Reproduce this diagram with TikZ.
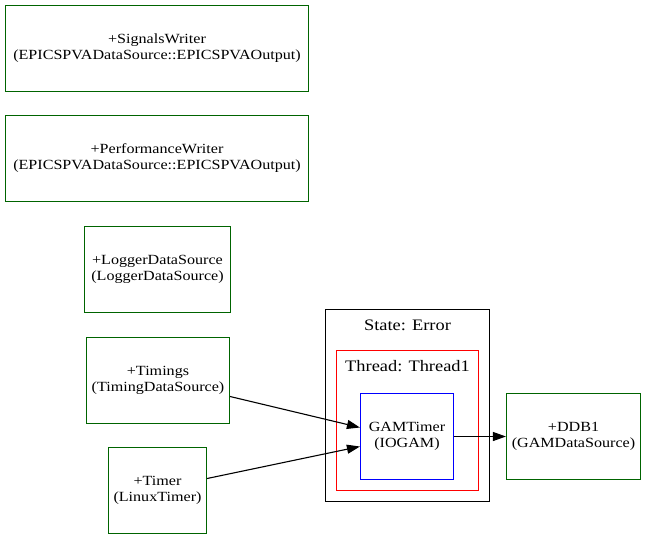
\documentclass[tikz,border=0pt]{standalone}
\usepackage{fontspec}
\setmainfont[FakeStretch=1.15]{Liberation Serif}
\usetikzlibrary{arrows.meta}
\definecolor{dgreen}{HTML}{006400}
\begin{document}
\begin{tikzpicture}[x=1pt,y=-1pt,
  box/.style={draw=dgreen,line width=1.15pt,align=center,inner sep=0pt,font=\fontsize{14}{16}\selectfont},
  clus/.style={line width=1.15pt},
  lbl/.style={font=\fontsize{16}{18}\selectfont,align=center},
  conn/.style={-{Triangle[length=13pt,width=9pt]},line width=1.1pt}]
\useasboundingbox (0,0) rectangle (647,539);
\begin{scope}[shift={(0.5,0.5)}]
\node[box,minimum width=303pt,minimum height=86pt] (sw) at (156.5,48) {+SignalsWriter\\(EPICSPVADataSource::EPICSPVAOutput)};
\node[box,minimum width=303pt,minimum height=86pt] (pw) at (156.5,158) {+PerformanceWriter\\(EPICSPVADataSource::EPICSPVAOutput)};
\node[box,minimum width=146pt,minimum height=86pt] (lds) at (157,269) {+LoggerDataSource\\(LoggerDataSource)};
\node[box,minimum width=143pt,minimum height=86pt] (tim) at (157.5,380) {+Timings\\(TimingDataSource)};
\node[box,minimum width=98pt,minimum height=86pt] (tmr) at (157,490) {+Timer\\(LinuxTimer)};
\draw[clus,draw=black] (325,309) rectangle (489,501);
\node[lbl] (stl) at (407,325) {State: Error};
\draw[clus,draw=red] (336,350) rectangle (478,490);
\node[lbl] (thl) at (407,366) {Thread: Thread1};
\node[box,draw=blue,minimum width=93pt,minimum height=86pt] (gam) at (406.5,436) {GAMTimer\\(IOGAM)};
\node[box,minimum width=134pt,minimum height=86pt] (ddb) at (573,436) {+DDB1\\(GAMDataSource)};
\draw[conn] (tim.east |- 0,396) -- (gam.west |- 0,427);
\draw[conn] (tmr.east |- 0,478) -- (gam.west |- 0,446);
\draw[conn] (gam) -- (ddb);
\end{scope}
\end{tikzpicture}
\end{document}
